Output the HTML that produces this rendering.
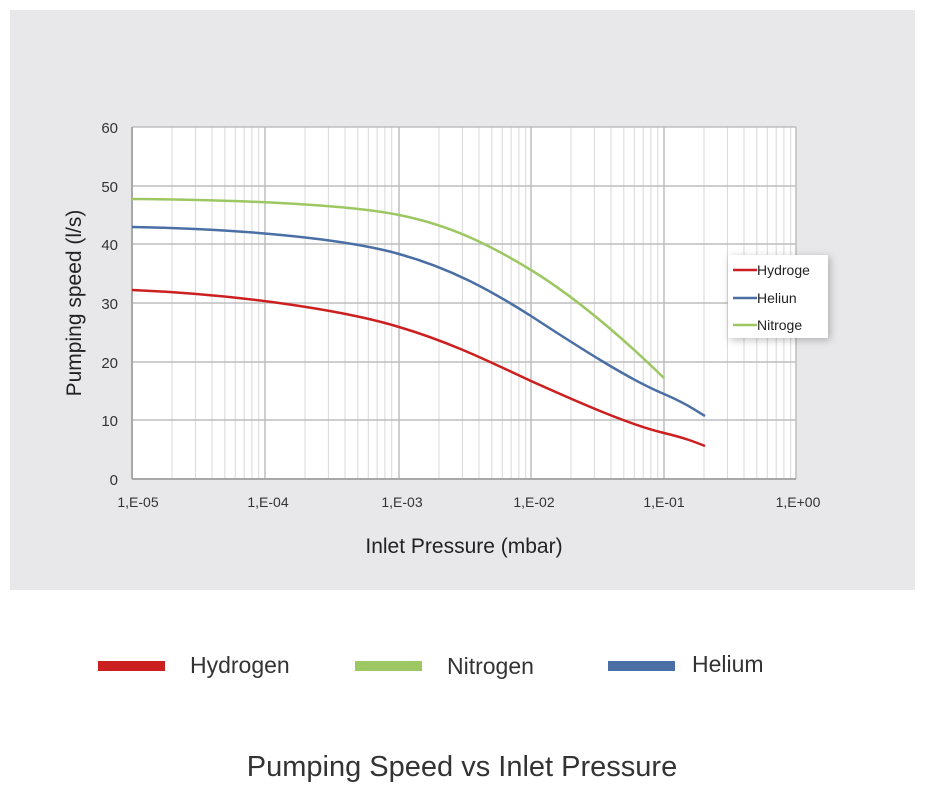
<!DOCTYPE html>
<html><head><meta charset="utf-8"><style>
body{margin:0;background:#fff;width:925px;height:793px;overflow:hidden;font-family:"Liberation Sans",sans-serif;}
</style></head><body>
<svg width="925" height="793" xmlns="http://www.w3.org/2000/svg" font-family="Liberation Sans, sans-serif">
<rect x="10" y="10" width="905" height="580" fill="#e8e8ea"/>
<rect x="132" y="127" width="664" height="352" fill="#fff"/>
<path stroke="#d8d8d8" stroke-width="1" fill="none" d="M172,127V479M195.4,127V479M212,127V479M224.8,127V479M235.3,127V479M244.2,127V479M251.9,127V479M258.7,127V479M305,127V479M328.4,127V479M345,127V479M357.8,127V479M368.3,127V479M377.2,127V479M384.9,127V479M391.7,127V479M439,127V479M462.4,127V479M479,127V479M491.8,127V479M502.3,127V479M511.2,127V479M518.9,127V479M525.7,127V479M571,127V479M594.4,127V479M611,127V479M623.8,127V479M634.3,127V479M643.2,127V479M650.9,127V479M657.7,127V479M704,127V479M727.4,127V479M744,127V479M756.8,127V479M767.3,127V479M776.2,127V479M783.9,127V479M790.7,127V479"/>
<g stroke="#bdbdbd" stroke-width="1.5">
<line x1="132" y1="127" x2="796" y2="127"/><line x1="132" y1="186" x2="796" y2="186"/><line x1="132" y1="244" x2="796" y2="244"/><line x1="132" y1="303" x2="796" y2="303"/><line x1="132" y1="362" x2="796" y2="362"/><line x1="132" y1="420" x2="796" y2="420"/>
<line x1="265" y1="127" x2="265" y2="479"/><line x1="399" y1="127" x2="399" y2="479"/><line x1="531" y1="127" x2="531" y2="479"/><line x1="664" y1="127" x2="664" y2="479"/><line x1="796" y1="127" x2="796" y2="479"/>
</g>
<line x1="132" y1="127" x2="132" y2="479" stroke="#a8a8a8" stroke-width="2"/>
<line x1="132" y1="479" x2="796" y2="479" stroke="#a8a8a8" stroke-width="2"/>
<g fill="none" stroke-width="2.5">
<path stroke="#9dc763" d="M132,199 C250,200 350,205 399,215 C450,225 490,245 531,270 C580,300 630,345 664,378"/>
<path stroke="#4a6fa5" d="M132,227 C250,229 350,240 399,254 C450,268 490,290 531,316 C580,348 630,380 664,394 C685,403 695,410 705,416"/>
<path stroke="#cc1f1f" d="M132,290 C250,295 350,312 399,327 C450,342 490,362 531,381 C580,403 630,425 664,433 C685,438 695,442 705,446"/>
</g>
<g font-size="15" fill="#333" text-anchor="end">
<text x="118" y="133">60</text><text x="118" y="192">50</text><text x="118" y="250">40</text><text x="118" y="309">30</text><text x="118" y="368">20</text><text x="118" y="426">10</text><text x="118" y="485">0</text>
</g>
<g font-size="14" fill="#333" text-anchor="middle">
<text x="138" y="507">1,E-05</text><text x="268" y="507">1,E-04</text><text x="402" y="507">1,E-03</text><text x="534" y="507">1,E-02</text><text x="664" y="507">1,E-01</text><text x="798" y="507">1,E+00</text>
</g>
<text x="464" y="553" font-size="21" fill="#222" text-anchor="middle">Inlet Pressure (mbar)</text>
<text transform="translate(81,303) rotate(-90)" font-size="21" fill="#222" text-anchor="middle">Pumping speed (l/s)</text>
<rect x="728" y="255" width="100" height="83" fill="#fff" style="filter:drop-shadow(2px 2px 4px rgba(0,0,0,0.25))"/>
<g stroke-width="2.5"><line x1="733" y1="270" x2="757" y2="270" stroke="#cc1f1f"/><line x1="733" y1="298" x2="757" y2="298" stroke="#4a6fa5"/><line x1="733" y1="325" x2="757" y2="325" stroke="#9dc763"/></g>
<g font-size="14" fill="#222"><text x="757" y="275">Hydroge</text><text x="757" y="303">Heliun</text><text x="757" y="330">Nitroge</text></g>
<rect x="98" y="661" width="67" height="10" fill="#cc1f1f"/>
<rect x="355" y="661" width="67" height="10" fill="#9dc763"/>
<rect x="608" y="661" width="67" height="10" fill="#4a6fa5"/>
<g font-size="23" fill="#333"><text x="190" y="673">Hydrogen</text><text x="447" y="674">Nitrogen</text><text x="692" y="672">Helium</text></g>
<text x="462" y="776" font-size="29" fill="#333" text-anchor="middle">Pumping Speed vs Inlet Pressure</text>
</svg>
</body></html>
